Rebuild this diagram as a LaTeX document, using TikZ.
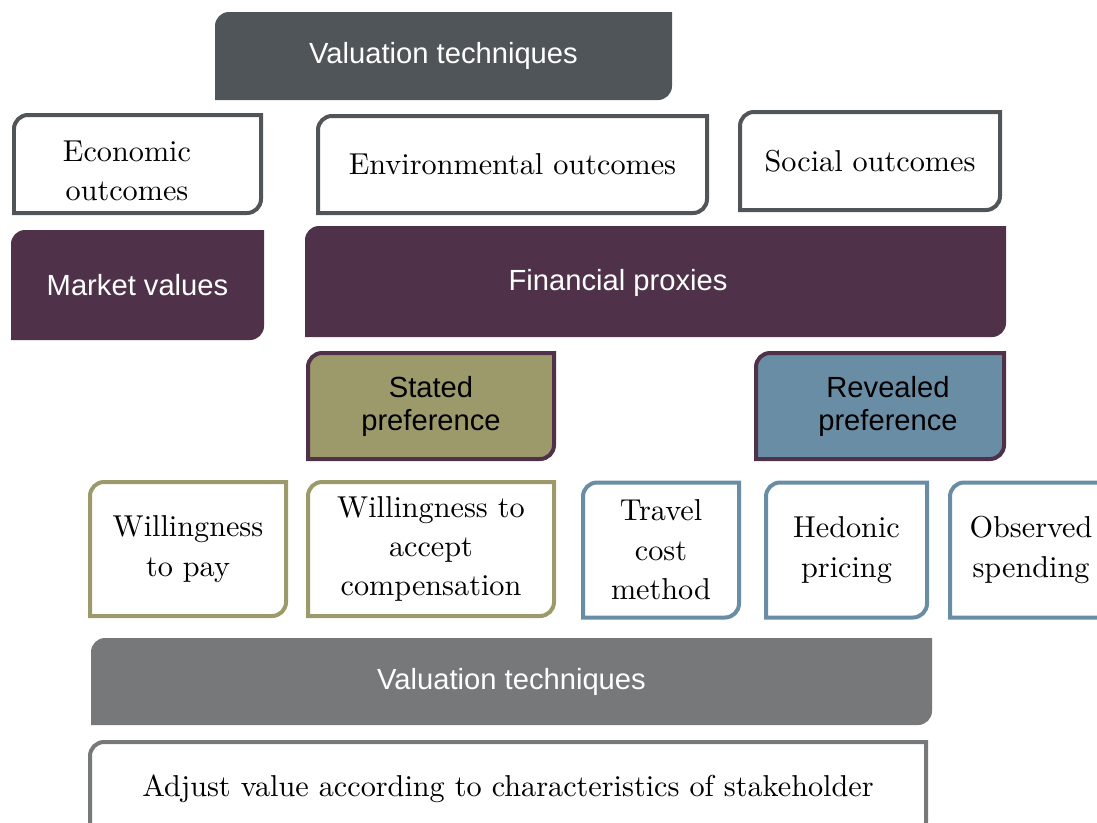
\documentclass[tikz,border=0pt]{standalone}
\usepackage{fontspec}
\setmainfont{lmroman10-regular.otf}
\newfontfamily\labelsans{Liberation Sans}
\usetikzlibrary{backgrounds}
\definecolor{boxslate}{HTML}{505559}
\definecolor{boxplum}{HTML}{4F3249}
\definecolor{boxsage}{HTML}{9C9A6B}
\definecolor{boxsteel}{HTML}{6A8DA6}
\definecolor{boxgrey}{HTML}{77787A}
\tikzset{
  box/.style={inner sep=0pt, outer sep=0pt, align=center},
  wh/.style 2 args={minimum width=#1*0.02cm, minimum height=#2*0.02cm},
  head/.style={box, font=\labelsans\fontsize{16.6}{18.8}\selectfont, text=white},
  pref/.style={box, font=\labelsans\fontsize{16.6}{18.8}\selectfont, text=black},
  item/.style={box, font=\fontsize{17.2}{22.4}\selectfont},
  edge/.style={draw=#1, line width=0.08cm, fill=white}
}
% rectangle with rounded top-left and bottom-right corners
\newcommand{\cutbox}[2][]{%
  \path[#1] (#2.south west) -- ([yshift=-2.8mm]#2.north west)
    arc[start angle=180, end angle=90, radius=2.8mm] -- (#2.north east)
    -- ([yshift=2.8mm]#2.south east)
    arc[start angle=0, end angle=-90, radius=2.8mm] -- cycle;}

\begin{document}
\begin{tikzpicture}[x=0.02cm, y=-0.02cm]
  \useasboundingbox (0,0) rectangle (1097,822);

  % top row
  \node[head, wh={457}{88}] (valtop) at (443.5,56) {Valuation techniques};
  \node[item, wh={247}{98}] (eco) at (137.5,164) {};
  \node[item] (ecotext) at (127,171) {Economic\\outcomes};
  \node[item, wh={389}{97}] (env) at (512.5,164.5) {Environmental outcomes};
  \node[item, wh={260}{98}] (soc) at (870,161) {Social outcomes};
  \node[head, wh={253}{110}] (market) at (137.5,285) {Market values};
  \node[head, wh={701}{111}] (proxy) at (655.5,281.5) {};
  \node[head] (proxytext) at (618,283) {Financial proxies};

  % preference types
  \node[pref, wh={246}{106}] (stated) at (431,406) {Stated\\preference};
  \node[pref, wh={248}{106}] (revealed) at (880,406) {};
  \node[pref] (revealedtext) at (888,406) {Revealed\\preference};

  % methods
  \node[item, wh={196}{134}] (wtp) at (188,549) {Willingness\\to pay};
  \node[item, wh={246}{134}] (wta) at (431,549) {Willingness to\\accept\\compensation};
  \node[item, wh={156}{135}] (travel) at (661,550) {Travel\\cost\\method};
  \node[item, wh={161}{135}] (hedonic) at (846.5,550) {Hedonic\\pricing};
  \node[item, wh={162}{135}] (spend) at (1031,550) {Observed\\spending};

  % bottom rows
  \node[head, wh={841}{87}] (valbot) at (511.5,681.5) {Valuation techniques};
  \node[item, wh={836}{94}] (adjust) at (508,789) {Adjust value according to characteristics of stakeholder};

  \begin{scope}[on background layer]
    \cutbox[fill=boxslate]{valtop}
    \foreach \n in {eco,env,soc} \cutbox[edge=boxslate]{\n};
    \foreach \n in {market,proxy} \cutbox[fill=boxplum]{\n};
    \cutbox[edge=boxplum, fill=boxsage]{stated}
    \cutbox[edge=boxplum, fill=boxsteel]{revealed}
    \foreach \n in {wtp,wta} \cutbox[edge=boxsage]{\n};
    \foreach \n in {travel,hedonic,spend} \cutbox[edge=boxsteel]{\n};
    \cutbox[fill=boxgrey]{valbot}
    \cutbox[edge=boxgrey]{adjust}
  \end{scope}
\end{tikzpicture}
\end{document}
